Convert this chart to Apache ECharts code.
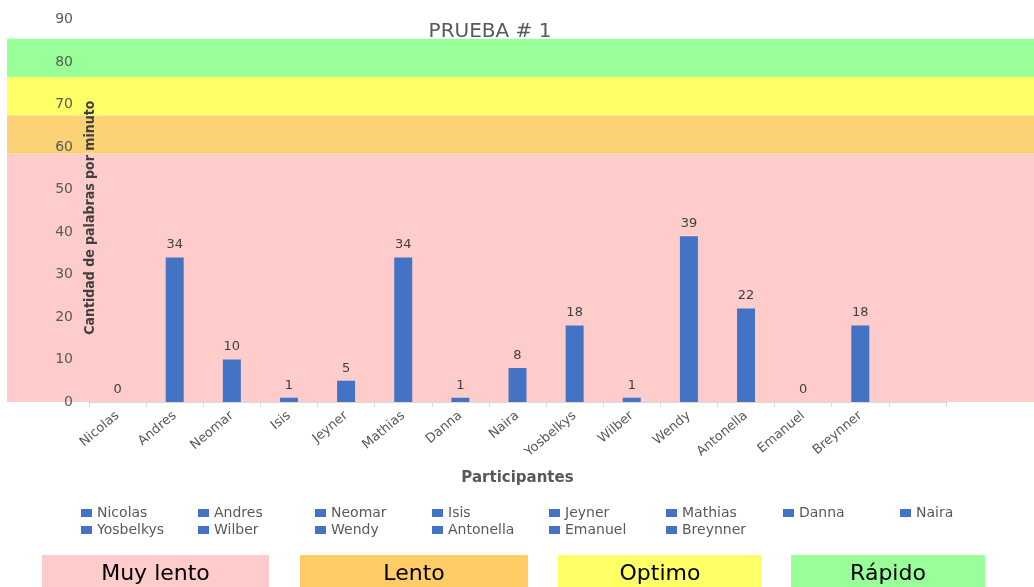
<!DOCTYPE html>
<html>
<head>
<meta charset="utf-8">
<script src="https://cdn.jsdelivr.net/npm/echarts@6/dist/echarts.min.js"></script>
<style>html,body{margin:0;padding:0;background:#fff;}#c{width:1034px;height:587px;}</style>
</head>
<body>
<div id="c"></div>
<script>
const categories = ['Nicolas','Andres','Neomar','Isis','Jeyner','Mathias','Danna','Naira','Yosbelkys','Wilber','Wendy','Antonella','Emanuel','Breynner',''];
const values = [0,34,10,1,5,34,1,8,18,1,39,22,0,18,null];
const legendNames = categories.slice(0,14);
const bandLabels = ['Muy lento','Lento','Optimo','Rápido'];
const bandLimits = [0,58.5,67.5,76.5,85.5];
const bandColors = ['#FFCCCC','#FBD376','#FFFF66','#99FF99'];
const boxColors = ['#FFCCCC','#FFCC66','#FFFF66','#99FF99'];
const yTicks = {min:0,max:90,interval:10};

const chart = echarts.init(document.getElementById('c'));
const font = "'DejaVu Sans', 'Noto Sans', sans-serif";

const bandAreas = bandColors.map((c,i)=>[{yAxis:bandLimits[i], itemStyle:{color:c, opacity:1}},{yAxis:bandLimits[i+1]}]);

const boxes = [
  {left:42,width:227},{left:300,width:228},{left:558,width:204},{left:791,width:194}
].map((b,i)=>({
  type:'group', left:b.left, top:555,
  children:[
    {type:'rect', shape:{x:0,y:0,width:b.width,height:32}, style:{fill:boxColors[i]}},
    {type:'text', x:b.width/2, y:19, style:{text:bandLabels[i], fill:'#000', font:"22px "+font, textAlign:'center', textVerticalAlign:'middle'}}
  ]
}));

const dummySeries = legendNames.map(n=>({name:n, type:'line', data:[], xAxisIndex:0, yAxisIndex:0, color:'#4472C4'}));

chart.setOption({
  animation:false,
  textStyle:{fontFamily:font},
  title:{text:'PRUEBA # 1', left:485, top:17, textAlign:'center', textStyle:{fontSize:20, fontWeight:'normal', color:'#595959', fontFamily:font}},
  legend:{
    data:legendNames, left:76, top:501, width:935, icon:'rect', itemWidth:11, itemHeight:8, itemGap:3,
    textStyle:{fontSize:14, color:'#595959', width:98, lineHeight:14, fontFamily:font},
    selectedMode:false
  },
  grid:[
    {left:89, right:88, top:19.5, bottom:185},
    {left:7, right:0, top:19.5, bottom:185}
  ],
  xAxis:[
    {type:'category', gridIndex:0, data:categories, boundaryGap:true,
     axisLine:{show:true, lineStyle:{color:'#D9D9D9'}},
     axisTick:{show:true, length:5, lineStyle:{color:'#D9D9D9'}},
     axisLabel:{interval:0, rotate:40, fontSize:13, color:'#595959', margin:12, fontFamily:font},
     name:'Participantes', nameLocation:'middle', nameGap:69,
     nameTextStyle:{fontSize:15, fontWeight:'bold', color:'#595959', fontFamily:font}, z:3},
    {type:'value', gridIndex:1, min:0, max:1, show:false}
  ],
  yAxis:[
    {type:'value', gridIndex:0, min:yTicks.min, max:yTicks.max, interval:yTicks.interval,
     axisLine:{show:false}, axisTick:{show:false}, splitLine:{show:false},
     axisLabel:{fontSize:14, color:'#595959', margin:16, fontFamily:font},
     name:'Cantidad de palabras por minuto', nameLocation:'middle', nameGap:-8, nameRotate:90, nameMoveOverlap:false,
     nameTextStyle:{fontSize:14, fontWeight:'bold', color:'#404040', fontFamily:"'DejaVu Sans Condensed', 'Liberation Sans Narrow', sans-serif", padding:[0,14,0,0]}, z:3},
    {type:'value', gridIndex:1, min:yTicks.min, max:yTicks.max, show:false}
  ],
  series:[
    {type:'line', xAxisIndex:1, yAxisIndex:1, data:[], z:0, silent:true,
     markArea:{silent:true, data:bandAreas}},
    {name:'Cantidad', type:'bar', xAxisIndex:0, yAxisIndex:0, data:values, barWidth:18, z:3,
     itemStyle:{color:'#4472C4'},
     label:{show:true, position:'top', distance:6, fontSize:13, color:'#404040', fontFamily:font}}
  ].concat(dummySeries),
  graphic:boxes
});
</script>
</body>
</html>
